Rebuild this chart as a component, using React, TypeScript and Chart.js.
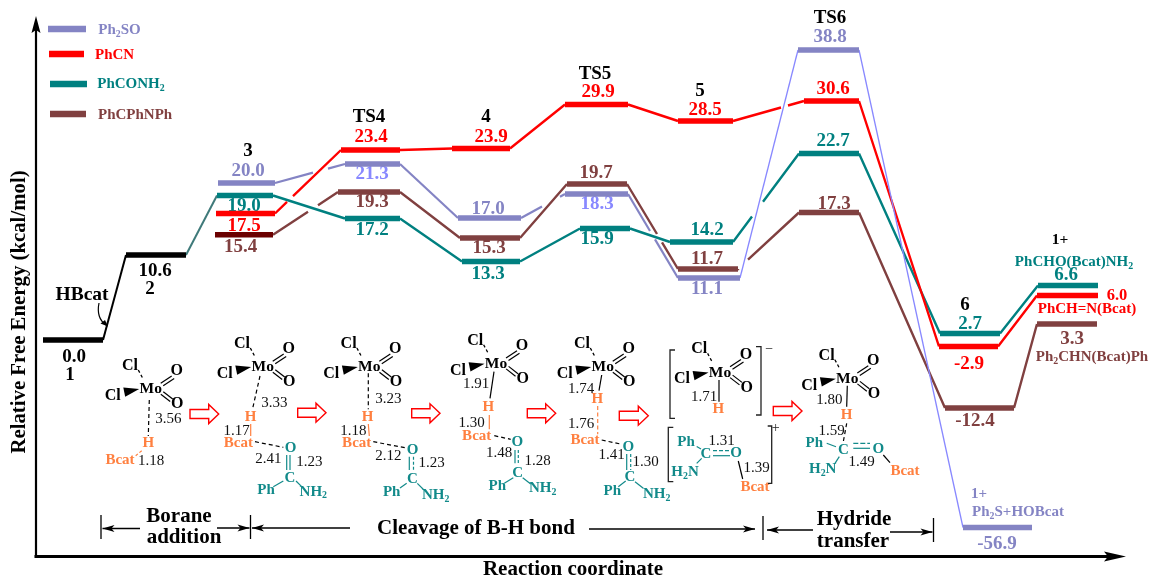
import React, { useEffect, useRef } from "react";
import { Chart, registerables } from "chart.js";

Chart.register(...registerables);

// Energies printed on the diagram (kcal/mol)
const sharedEnergies = [0.0, 10.6];
const ph2soEnergies = [20.0, 21.3, 17.0, 18.3, 11.1, 38.8, -56.9];
const phcnEnergies = [17.5, 23.4, 23.9, 29.9, 28.5, 30.6, -2.9, 6.0];
const phconh2Energies = [19.0, 17.2, 13.3, 15.9, 14.2, 22.7, 2.7, 6.6];
const phcphnphEnergies = [15.4, 19.3, 15.3, 19.7, 11.7, 17.3, -12.4, 3.3];

// The diagram is not drawn to scale: heights of the levels as drawn
const sharedLevels = [0, 85];
const ph2soLevels = [157, 176, 122, 146, 62, 290, -187.5];
const phcnLevels = [126.5, 190, 191.5, 235.5, 219, 239, -6.5, 44.5];
const phconh2Levels = [144.5, 121.5, 78.5, 111.5, 98, 186.5, 6.5, 54.5];
const phcphnphLevels = [105.3, 148, 102, 156, 71, 127.5, -68, 16];

// Reaction-coordinate extents of each level
const sharedStart = [43, 126];
const sharedEnd = [103, 186];
const ph2soStart = [218, 345, 458, 565, 678, 798, 963];
const ph2soEnd = [275, 400, 521, 628, 740, 859, 1032];
const phcnStart = [216, 341, 452, 565, 678, 804, 939, 1037];
const phcnEnd = [275, 400, 510, 628, 733, 859, 998, 1098];
const phconh2Start = [217, 345, 462, 580, 670, 799, 940, 1038];
const phconh2End = [273, 400, 520, 630, 733, 859, 1000, 1098];
const phcphnphStart = [215, 338, 460, 567, 678, 799, 945, 1037];
const phcphnphEnd = [273, 400, 520, 627, 738, 859, 1014, 1097];

// Breaks where a connector passes behind another line: [connector, from, to]
const ph2soBreaks = [[0, 313, 328], [2, 542, 560], [3, 650, 655]];
const phcnBreaks = [[0, 287, 293], [4, 781, 788]];
const phconh2Breaks = [[4, 752, 763]];
const phcphnphBreaks = [[0, 308, 318], [3, 657, 662], [4, 738.01, 748]];

const seriesNames = ["Ph2SO", "PhCN", "PhCONH2", "PhCPhNPh"];

const SERIF = '"Liberation Serif"';
const BLUE = "#8484c4";
const LIGHT_BLUE = "#8888ff";
const RED = "#ff0000";
const TEAL = "#008080";
const BROWN = "#804040";
const ORANGE = "#ff8040";
const MTEAL = "#128a8a";

type P = { x: number; y: number | null };

function plateaus(starts: number[], ends: number[], levels: number[]): P[] {
  const out: P[] = [];
  levels.forEach((l, i) => {
    out.push({ x: starts[i], y: l }, { x: ends[i], y: l });
    if (i < levels.length - 1) out.push({ x: ends[i] + 0.5, y: null });
  });
  return out;
}

function connectors(starts: number[], ends: number[], levels: number[], breaks: number[][]): P[] {
  const out: P[] = [];
  for (let i = 0; i < levels.length - 1; i++) {
    const x0 = ends[i], y0 = levels[i], x1 = starts[i + 1], y1 = levels[i + 1];
    const at = (x: number) => y0 + ((y1 - y0) * (x - x0)) / (x1 - x0);
    out.push({ x: x0, y: y0 });
    breaks.filter((b) => b[0] === i).forEach((b) => {
      out.push({ x: b[1], y: at(b[1]) }, { x: (b[1] + b[2]) / 2, y: null }, { x: b[2], y: at(b[2]) });
    });
    out.push({ x: x1, y: y1 });
    if (i < levels.length - 2) out.push({ x: x1 + 0.25, y: null });
  }
  return out;
}

function richText(ctx: CanvasRenderingContext2D, str: string, x: number, y: number, size: number, color: string, bold = true) {
  const parts = str.split(/(_\d)/).filter(Boolean);
  const main = `${bold ? "bold " : ""}${size}px ${SERIF}`;
  const sub = `${bold ? "bold " : ""}${size * 0.66}px ${SERIF}`;
  let w = 0;
  parts.forEach((p) => {
    ctx.font = p[0] === "_" ? sub : main;
    w += ctx.measureText(p[0] === "_" ? p.slice(1) : p).width;
  });
  let cx = x - w / 2;
  ctx.fillStyle = color;
  ctx.textAlign = "left";
  ctx.textBaseline = "middle";
  parts.forEach((p) => {
    const isSub = p[0] === "_";
    const s = isSub ? p.slice(1) : p;
    ctx.font = isSub ? sub : main;
    ctx.fillText(s, cx, y + (isSub ? size * 0.28 : 0));
    cx += ctx.measureText(s).width;
  });
}

function line(ctx: CanvasRenderingContext2D, x1: number, y1: number, x2: number, y2: number, color = "#000", w = 1.2, dash: number[] = []) {
  ctx.save();
  ctx.strokeStyle = color;
  ctx.lineWidth = w;
  ctx.setLineDash(dash);
  ctx.beginPath();
  ctx.moveTo(x1, y1);
  ctx.lineTo(x2, y2);
  ctx.stroke();
  ctx.restore();
}

function poly(ctx: CanvasRenderingContext2D, pts: number[][], fill = "#000") {
  ctx.fillStyle = fill;
  ctx.beginPath();
  pts.forEach((p, i) => (i ? ctx.lineTo(p[0], p[1]) : ctx.moveTo(p[0], p[1])));
  ctx.closePath();
  ctx.fill();
}

function moCore(ctx: CanvasRenderingContext2D, x: number, y: number) {
  richText(ctx, "Mo", x, y, 15.5, "#000");
  richText(ctx, "Cl", x - 20.7, y - 23.6, 16, "#000");
  richText(ctx, "Cl", x - 38, y + 6.4, 16, "#000");
  richText(ctx, "O", x + 26, y - 18.3, 16, "#000");
  richText(ctx, "O", x + 26.6, y + 14.7, 16, "#000");
  line(ctx, x - 12.4, y - 19.3, x - 7.4, y - 10, "#000", 1.3, [3, 2.5]);
  poly(ctx, [[x - 11.5, y - 0.3], [x - 27.4, y - 1.8], [x - 25.5, y + 7.5]]);
  line(ctx, x + 10, y - 6, x + 21, y - 13.3);
  line(ctx, x + 12.5, y - 3.5, x + 23.5, y - 10.8);
  line(ctx, x + 12.6, y + 2.4, x + 22, y + 9.7);
  line(ctx, x + 10.1, y + 4.9, x + 19.5, y + 12.2);
}

function hollowArrow(ctx: CanvasRenderingContext2D, x0: number, x1: number, y: number) {
  const hx = x1 - 10;
  ctx.strokeStyle = RED;
  ctx.lineWidth = 1.4;
  ctx.beginPath();
  ctx.moveTo(x0, y - 4.5);
  ctx.lineTo(hx, y - 4.5);
  ctx.lineTo(hx, y - 9.5);
  ctx.lineTo(x1, y);
  ctx.lineTo(hx, y + 9.5);
  ctx.lineTo(hx, y + 4.5);
  ctx.lineTo(x0, y + 4.5);
  ctx.closePath();
  ctx.stroke();
}

function barbArrow(ctx: CanvasRenderingContext2D, x0: number, x1: number, y: number) {
  line(ctx, x0, y, x1, y, "#000", 1.6);
  const d = x1 > x0 ? -1 : 1;
  poly(ctx, [[x1, y], [x1 + d * 12, y - 3.6], [x1 + d * 9, y], [x1 + d * 12, y + 3.6]]);
}

function bracket(ctx: CanvasRenderingContext2D, x: number, tick: number, y0: number, y1: number, color = "#222") {
  ctx.strokeStyle = color;
  ctx.lineWidth = 1.3;
  ctx.setLineDash([]);
  ctx.beginPath();
  ctx.moveTo(tick, y0);
  ctx.lineTo(x, y0);
  ctx.lineTo(x, y1);
  ctx.lineTo(tick, y1);
  ctx.stroke();
}

function drawMolecules(ctx: CanvasRenderingContext2D) {
  const num = (s: string, x: number, y: number) => richText(ctx, s, x, y, 15, "#111", false);
  const or = (s: string, x: number, y: number) => richText(ctx, s, x, y, 15, ORANGE);
  const te = (s: string, x: number, y: number) => richText(ctx, s, x, y, 15, MTEAL);
  const dash = [4, 3];

  // Molecule 1
  moCore(ctx, 150.7, 389.3);
  line(ctx, 149.3, 400, 148.3, 436, "#000", 1.2, dash);
  num("3.56", 168.3, 419);
  or("H", 148.3, 443.3);
  or("Bcat", 120, 460);
  line(ctx, 141.7, 450.7, 135.7, 455.7, ORANGE, 1.2, [3, 2]);
  num("1.18", 151, 461.3);
  hollowArrow(ctx, 190, 218.7, 414);

  // Molecule 2
  moCore(ctx, 262.7, 367.3);
  line(ctx, 260, 376, 252.7, 408.3, "#000", 1.2, dash);
  num("3.33", 274.3, 403.3);
  or("H", 250.7, 416.7);
  num("1.17", 236.7, 431);
  line(ctx, 250.7, 424, 250.7, 436, ORANGE);
  or("Bcat", 238.3, 443.3);
  line(ctx, 255, 441.7, 283.3, 447.3, "#000", 1.2, dash);
  te("O", 290.7, 447.7);
  num("2.41", 268.3, 459.3);
  num("1.23", 309.3, 462);
  line(ctx, 286.7, 455, 286.7, 470, MTEAL);
  line(ctx, 290, 455, 290, 470, MTEAL);
  te("C", 290, 477.7);
  te("Ph", 266, 490);
  te("NH_2", 313.3, 491.7);
  line(ctx, 273.3, 486.7, 283.3, 481, MTEAL);
  line(ctx, 296, 481, 301.7, 486.7, MTEAL);
  hollowArrow(ctx, 297.7, 326, 412.7);

  // Molecule 3
  moCore(ctx, 369.3, 367.3);
  line(ctx, 368.3, 373.3, 368.3, 409.3, "#000", 1.2, dash);
  num("3.23", 388.3, 399);
  or("H", 367.7, 416.7);
  num("1.18", 353.3, 431);
  line(ctx, 368.3, 424, 369.3, 436, ORANGE);
  or("Bcat", 356.7, 443.3);
  line(ctx, 373.3, 441.7, 405, 447.7, "#000", 1.2, dash);
  te("O", 412.7, 450);
  num("2.12", 388.3, 456);
  num("1.23", 431.7, 463.3);
  line(ctx, 409.3, 456.7, 409.3, 470, MTEAL);
  line(ctx, 413.5, 456.7, 413.5, 470, MTEAL, 1.2, [3, 2]);
  te("C", 412.3, 479);
  te("Ph", 391.7, 491.7);
  te("NH_2", 435.7, 495);
  line(ctx, 400, 488, 406.7, 483.3, MTEAL);
  line(ctx, 417.3, 483.3, 424, 490, MTEAL);
  hollowArrow(ctx, 411.7, 440, 413.3);

  // Molecule 4
  moCore(ctx, 496, 364);
  line(ctx, 494, 371.7, 490, 398.3);
  num("1.91", 476, 384.3);
  or("H", 488.3, 407.3);
  num("1.30", 471.7, 423.3);
  line(ctx, 489.3, 415, 489.3, 429.3, ORANGE);
  or("Bcat", 476.7, 436);
  line(ctx, 494.3, 435.7, 510.7, 439.3, "#000", 1.2, dash);
  te("O", 517.3, 442.3);
  num("1.48", 499, 453.3);
  num("1.28", 537.7, 460.7);
  line(ctx, 515, 450, 515, 463.3, MTEAL);
  line(ctx, 518.3, 450, 518.3, 463.3, MTEAL, 1.2, [3, 2]);
  te("C", 517.7, 472.7);
  te("Ph", 497.3, 486);
  te("NH_2", 542.7, 488.3);
  line(ctx, 504.3, 483.3, 513.3, 477.7, MTEAL);
  line(ctx, 522.7, 477.7, 530.7, 484, MTEAL);
  hollowArrow(ctx, 527.3, 555.7, 413.3);

  // Molecule 5
  moCore(ctx, 602.7, 367.3);
  line(ctx, 601.7, 375, 599, 390.7);
  num("1.74", 581, 389);
  or("H", 597.3, 399);
  num("1.76", 581, 424);
  line(ctx, 597.7, 406, 597.7, 434.3, ORANGE, 1.2, [4, 2.5]);
  or("Bcat", 585, 440);
  line(ctx, 601.7, 440, 621.7, 444.3, "#000", 1.2, dash);
  te("O", 628.3, 446.7);
  num("1.41", 611.7, 455);
  num("1.30", 645.7, 462.3);
  line(ctx, 626.7, 454, 626.7, 470, MTEAL);
  line(ctx, 630.7, 454, 630.7, 470, MTEAL, 1.2, [3, 2]);
  te("C", 630, 476.7);
  te("Ph", 612.3, 491);
  te("NH_2", 656.7, 494.3);
  line(ctx, 618.3, 486.7, 625.7, 481, MTEAL);
  line(ctx, 635, 481.7, 643.3, 488.3, MTEAL);
  hollowArrow(ctx, 619.3, 648.3, 415.7);

  // Ion pair
  moCore(ctx, 720, 372.7);
  line(ctx, 719, 380, 719, 401.7);
  num("1.71", 704, 397.3);
  or("H", 718.3, 409);
  bracket(ctx, 670, 675, 350, 418.3);
  bracket(ctx, 761, 756, 346.7, 415);
  richText(ctx, "\u2212", 769.3, 349.5, 14, "#222", false);
  bracket(ctx, 668.3, 673.3, 427.3, 481.7);
  bracket(ctx, 771.7, 767.7, 426, 483.3);
  richText(ctx, "+", 775.7, 428, 14, "#222", false);
  te("Ph", 686, 442.3);
  num("1.31", 721.7, 440.7);
  te("C", 706, 454);
  te("O", 736, 453.3);
  line(ctx, 713, 450.7, 730, 450.7, MTEAL, 1.2, [4, 2]);
  line(ctx, 713, 455.7, 730, 455.7, MTEAL);
  te("H_2N", 685, 472.3);
  line(ctx, 696.7, 446.5, 701, 449, MTEAL);
  line(ctx, 696.7, 463.3, 701.7, 458.3, MTEAL);
  num("1.39", 756.7, 468.3);
  line(ctx, 738.3, 461, 742.7, 479);
  or("Bcat", 755, 487.3);
  hollowArrow(ctx, 773.3, 802, 411);

  // Molecule 7
  moCore(ctx, 847.3, 379);
  line(ctx, 847.3, 385.7, 846.7, 406.7);
  num("1.80", 829.3, 400);
  or("H", 846.7, 415);
  num("1.59", 831.7, 431);
  line(ctx, 846.7, 423.3, 843.3, 441.7, "#000", 1.2, dash);
  te("Ph", 814.3, 443.3);
  line(ctx, 826.7, 443.3, 836, 446.7, MTEAL);
  te("C", 843.3, 450);
  line(ctx, 853.3, 443.3, 870, 443.3, MTEAL, 1.2, [5, 2]);
  line(ctx, 853.3, 448.3, 870, 448.3, MTEAL);
  te("O", 878.3, 449.3);
  num("1.49", 861.7, 462.3);
  line(ctx, 883.3, 455, 890, 462.7);
  or("Bcat", 905, 471);
  te("H_2N", 822.7, 469);
  line(ctx, 835, 463.3, 839.3, 456.7, MTEAL);
}

function drawPhases(ctx: CanvasRenderingContext2D) {
  line(ctx, 101, 515, 101, 539, "#000", 1.3);
  line(ctx, 250.5, 515, 250.5, 539, "#000", 1.3);
  line(ctx, 763, 516, 763, 540, "#000", 1.3);
  line(ctx, 933.5, 518, 933.5, 542, "#000", 1.3);
  barbArrow(ctx, 140, 102.5, 528.5);
  barbArrow(ctx, 217, 249.5, 528);
  barbArrow(ctx, 350, 252, 528);
  barbArrow(ctx, 589, 755, 529);
  barbArrow(ctx, 813, 767, 530);
  barbArrow(ctx, 890, 932.5, 532);
  richText(ctx, "Borane", 179, 517, 21, "#000");
  richText(ctx, "addition", 184, 538, 21, "#000");
  richText(ctx, "Cleavage of B-H bond", 476, 529, 21, "#000");
  richText(ctx, "Hydride", 854, 520, 21, "#000");
  richText(ctx, "transfer", 853, 542, 21, "#000");
}

const stageTitles: [string, number, number][] = [
  ["3", 248, 151], ["TS4", 369, 117], ["4", 486, 117], ["TS5", 595, 74],
  ["5", 700, 91], ["TS6", 830, 18], ["6", 965, 305],
];

const ph2soLabelAt = [[248, 171], [372, 174], [488, 209], [597, 204], [707, 289], [830, 37], [997, 544]];
const phcnLabelAt = [[244, 226], [371, 137], [491, 137], [598, 92], [705, 110], [833, 89], [969, 364], [1117, 296]];
const phconh2LabelAt = [[244, 206], [372, 230], [488, 274], [597, 239], [707, 230], [833, 141], [970, 324], [1066, 275]];
const phcphnphLabelAt = [[240.6, 247], [372, 202], [489, 248], [596, 173], [707, 259], [834, 204], [975, 421], [1072, 339]];
const sharedLabelAt = [[74, 357], [155, 271]];

const annotationPlugin = {
  id: "diagramAnnotations",
  beforeDatasetsDraw(chart: any) {
    const ctx: CanvasRenderingContext2D = chart.ctx;
    ctx.save();
    // Printed energies sit under the level bars
    const put = (vals: number[], at: number[][], colorOf: (i: number) => string, sizeOf: (i: number) => number = () => 19) =>
      vals.forEach((v, i) => richText(ctx, v.toFixed(1), at[i][0], at[i][1], sizeOf(i), colorOf(i)));
    put(sharedEnergies, sharedLabelAt, () => "#000");
    put(ph2soEnergies, ph2soLabelAt, (i) => (i === 1 || i === 3 ? LIGHT_BLUE : BLUE));
    put(phcnEnergies, phcnLabelAt, () => RED, (i) => (i === 7 ? 16.5 : 19));
    put(phconh2Energies, phconh2LabelAt, () => TEAL);
    put(phcphnphEnergies, phcphnphLabelAt, () => BROWN);
    ctx.restore();
  },
  afterDatasetsDraw(chart: any) {
    const ctx: CanvasRenderingContext2D = chart.ctx;
    ctx.save();

    // Axes with arrowheads
    const ax = chart.scales.x.getPixelForValue(36);
    const ay = chart.scales.y.getPixelForValue(-216);
    line(ctx, ax, 28, ax, ay + 1.5, "#000", 2.2);
    poly(ctx, [[ax, 16], [ax + 4.5, 33], [ax, 30], [ax - 4.5, 33]]);
    line(ctx, ax - 1.5, ay + 0.5, 1110, ay + 0.5, "#000", 3);
    poly(ctx, [[1126, ay + 0.5], [1104, ay - 4.5], [1108, ay + 0.5], [1104, ay + 5.5]]);

    // Legend
    const legend: [string, string, number, number, number, number, number][] = [
      [seriesNames[0], BLUE, 48, 86, 29, 97, 30],
      [seriesNames[1], RED, 49, 84, 54, 95, 55],
      [seriesNames[2], TEAL, 50, 87, 84, 96, 84],
      [seriesNames[3], BROWN, 50, 86, 114, 98, 115],
    ];
    legend.forEach(([name, color, x0, x1, y, tx, ty]) => {
      line(ctx, x0, y, x1, y, color, 6.5);
      const s = name.replace("Ph2", "Ph_2").replace("NH2", "NH_2");
      ctx.font = `bold 15px ${SERIF}`;
      const w = ctx.measureText(s.replace("_", "")).width;
      richText(ctx, s, tx + w / 2, ty, 15, color);
    });

    // Stage titles
    stageTitles.forEach(([s, x, y]) => richText(ctx, s, x, y, 19, "#000"));
    richText(ctx, "2", 150, 289, 19, "#000");
    richText(ctx, "1", 70, 375, 19, "#000");
    richText(ctx, "HBcat", 82, 295, 19.5, "#000");

    // Product names
    richText(ctx, "1+", 1060, 240, 15.5, "#000");
    richText(ctx, "PhCHO(Bcat)NH_2", 1074, 262, 15, TEAL);
    richText(ctx, "PhCH=N(Bcat)", 1087, 309, 15, RED);
    richText(ctx, "Ph_2CHN(Bcat)Ph", 1092, 357, 15, BROWN);
    richText(ctx, "1+", 979, 494, 15, BLUE);
    richText(ctx, "Ph_2S+HOBcat", 1018, 512, 15, BLUE);

    // HBcat curved arrow
    ctx.strokeStyle = "#000";
    ctx.lineWidth = 1.2;
    ctx.beginPath();
    ctx.moveTo(99, 303);
    ctx.quadraticCurveTo(96, 318, 106, 325);
    ctx.stroke();
    poly(ctx, [[108, 326.5], [100.5, 323.5], [105, 320]]);

    drawMolecules(ctx);
    drawPhases(ctx);
    ctx.restore();
  },
};

function lineSet(label: string, data: P[], color: any, width: number, order: number, segment?: any) {
  return {
    label,
    data,
    borderColor: color,
    borderWidth: width,
    pointRadius: 0,
    tension: 0,
    spanGaps: false,
    clip: false,
    fill: false,
    order,
    segment,
  };
}

export default function App() {
  const ref = useRef<HTMLCanvasElement | null>(null);

  useEffect(() => {
    const canvas = ref.current;
    if (!canvas) return;
    const datasets: any[] = [
      lineSet("shared levels", plateaus(sharedStart, sharedEnd, sharedLevels), "#000", 5.5, 1),
      lineSet("HBcat step", connectors(sharedStart, sharedEnd, sharedLevels, []), "#000", 2, 2),
      lineSet("entry", [{ x: sharedEnd[1], y: sharedLevels[1] }, { x: phconh2Start[0], y: phconh2Levels[0] }], "#3f7a7a", 2, 9),

      lineSet(seriesNames[1] + " connectors", connectors(phcnStart, phcnEnd, phcnLevels, phcnBreaks), RED, 2.4, 5),
      lineSet(seriesNames[2] + " connectors", connectors(phconh2Start, phconh2End, phconh2Levels, phconh2Breaks), TEAL, 2.4, 6),
      lineSet(seriesNames[3] + " connectors", connectors(phcphnphStart, phcphnphEnd, phcphnphLevels, phcphnphBreaks), BROWN, 2.4, 7),
      lineSet(seriesNames[0] + " connectors", connectors(ph2soStart, ph2soEnd, ph2soLevels, ph2soBreaks), BLUE, 2, 4, {
        borderColor: (c: any) => (c.p0.parsed.x >= ph2soEnd[4] ? LIGHT_BLUE : BLUE),
        borderWidth: (c: any) => (c.p0.parsed.x >= ph2soEnd[4] ? 1.3 : 2.2),
      }),

      lineSet(seriesNames[0], plateaus(ph2soStart, ph2soEnd, ph2soLevels), BLUE, 5.5, 3),
      lineSet(seriesNames[1], plateaus(phcnStart, phcnEnd, phcnLevels), RED, 5.5, 3),
      lineSet(seriesNames[2], plateaus(phconh2Start, phconh2End, phconh2Levels), TEAL, 5.5, 3),
      lineSet(seriesNames[3], plateaus(phcphnphStart, phcphnphEnd, phcphnphLevels), BROWN, 5.5, 3, {
        borderColor: (c: any) => (c.p0.parsed.x < phcphnphStart[1] ? "#6b0000" : BROWN),
      }),
    ];

    const chart = new Chart(canvas, {
      type: "line",
      data: { datasets },
      plugins: [annotationPlugin],
      options: {
        responsive: false,
        animation: false,
        layout: { padding: { top: 68, right: 39, left: 0, bottom: 0 } },
        plugins: { legend: { display: false }, tooltip: { enabled: false } },
        scales: {
          x: {
            type: "linear",
            position: "bottom",
            min: 36,
            max: 1110,
            grid: { display: false },
            border: { display: false },
            ticks: { display: false },
            afterFit: (s: any) => { s.height = 24; },
            title: {
              display: true,
              text: "Reaction coordinate",
              color: "#000",
              font: { family: SERIF, weight: "bold", size: 21, lineHeight: 1 },
              padding: { top: -1.5, bottom: 0 },
            },
          },
          y: {
            type: "linear",
            position: "left",
            min: -216,
            max: 272,
            grid: { display: false },
            border: { display: false },
            ticks: { display: false },
            afterFit: (s: any) => { s.width = 36; },
            title: {
              display: true,
              text: "Relative Free Energy (kcal/mol)",
              color: "#000",
              font: { family: SERIF, weight: "bold", size: 20.8, lineHeight: 1 },
              padding: { top: 9, bottom: 0 },
            },
          },
        },
      } as any,
    });
    return () => chart.destroy();
  }, []);

  return (
    <div style={{ position: "absolute", left: 0, top: 0, width: 1149, height: 580, background: "#fff" }}>
      <canvas ref={ref} width={1149} height={580} style={{ display: "block" }} />
    </div>
  );
}
